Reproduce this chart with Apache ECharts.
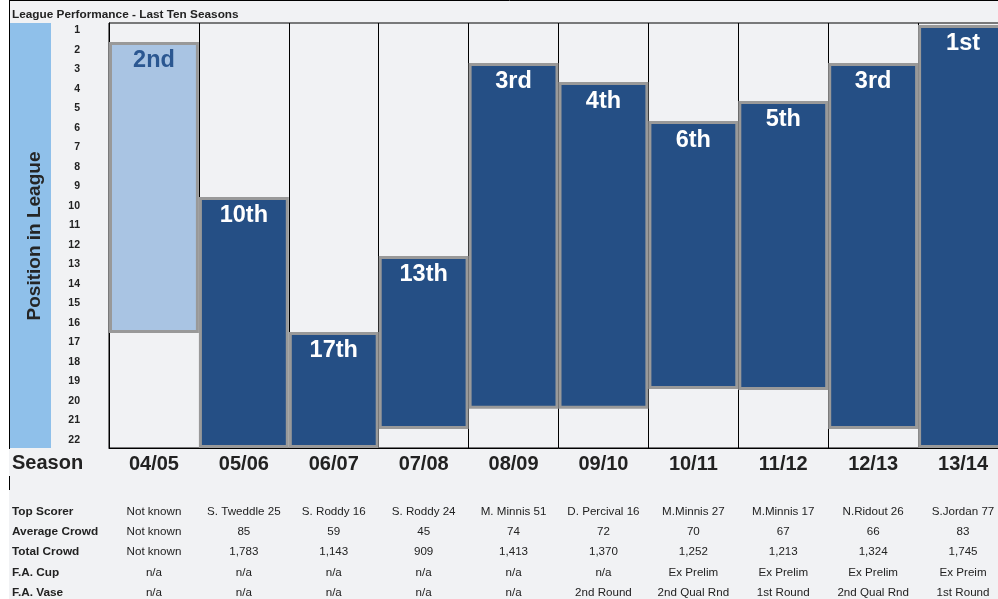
<!DOCTYPE html>
<html><head><meta charset="utf-8">
<script src="https://cdn.jsdelivr.net/npm/echarts@6/dist/echarts.min.js"></script>
<style>html,body{margin:0;padding:0;background:#fff;overflow:hidden}#c{width:1010px;height:599px}</style>
</head><body><div id="c"></div>
<script>
const seasons = ['04/05','05/06','06/07','07/08','08/09','09/10','10/11','11/12','12/13','13/14'];
const positionLabels = ['2nd','10th','17th','13th','3rd','4th','6th','5th','3rd','1st'];
const barTops = [1.59, 9.54, 16.47, 12.57, 2.67, 3.65, 5.65, 4.62, 2.67, 0.72];
const barBottoms = [16.52, 22.42, 22.42, 21.44, 20.41, 20.41, 19.39, 19.44, 21.44, 22.42];
const yTicks = [1,2,3,4,5,6,7,8,9,10,11,12,13,14,15,16,17,18,19,20,21,22];
const rowNames = ['Top Scorer','Average Crowd','Total Crowd','F.A. Cup','F.A. Vase'];
const topScorer = ['Not known','S. Tweddle 25','S. Roddy 16','S. Roddy 24','M. Minnis 51','D. Percival 16','M.Minnis 27','M.Minnis 17','N.Ridout 26','S.Jordan 77'];
const avgCrowd = ['Not known','85','59','45','74','72','70','67','66','83'];
const totalCrowd = ['Not known','1,783','1,143','909','1,413','1,370','1,252','1,213','1,324','1,745'];
const faCup = ['n/a','n/a','n/a','n/a','n/a','n/a','Ex Prelim','Ex Prelim','Ex Prelim','Ex Preim'];
const faVase = ['n/a','n/a','n/a','n/a','n/a','2nd Round','2nd Qual Rnd','1st Round','2nd Qual Rnd','1st Round'];
const tableRows = [topScorer, avgCrowd, totalCrowd, faCup, faVase];

const FONT = '"Liberation Sans", Arial, sans-serif';
const chart = echarts.init(document.getElementById('c'));
const lightIdx = 0;
const option = {
  backgroundColor: '#f1f2f4',
  animation: false,
  title: { text: 'League Performance - Last Ten Seasons', left: 12, top: 9, padding: 0,
    textStyle: { fontFamily: FONT, fontSize: 11.8, fontWeight: 'bold', color: '#222' } },
  grid: { left: 109, right: 2, top: 23, bottom: 151, show: true, borderColor: '#000', borderWidth: 1, backgroundColor: 'transparent' },
  xAxis: {
    type: 'category', data: seasons, position: 'bottom',
    axisLine: { show: true, lineStyle: { color: '#000', width: 1 } },
    axisTick: { show: false },
    splitLine: { show: true, lineStyle: { color: '#000', width: 1 } },
    axisLabel: { fontFamily: FONT, fontSize: 20, fontWeight: 'bold', color: '#222', margin: 6 }
  },
  yAxis: {
    type: 'value', inverse: true, min: 0.62, max: 22.42,
    axisLine: { show: true, lineStyle: { color: '#000', width: 1 } },
    axisTick: { show: false },
    splitLine: { show: false },
    axisLabel: { customValues: yTicks, fontFamily: FONT, fontSize: 10.5, fontWeight: 'bold', color: '#222', margin: 29 }
  },
  series: [
    { type: 'bar', stack: 's', data: barTops, itemStyle: { color: 'rgba(0,0,0,0)' }, barCategoryGap: 0, silent: true, z: 1 },
    { type: 'bar', stack: 's', barCategoryGap: 0, z: 3,
      data: barBottoms.map((b, i) => ({
        value: +(b - barTops[i]).toFixed(2),
        itemStyle: { color: i === lightIdx ? '#a9c4e3' : '#254f85' },
        label: { color: i === lightIdx ? '#2b5791' : '#ffffff' }
      })),
      itemStyle: { borderColor: '#999999', borderWidth: 3 },
      label: { show: true, position: 'insideTop', distance: 7, fontFamily: FONT, fontSize: 23.5, fontWeight: 'bold',
        formatter: p => positionLabels[p.dataIndex] }
    }
  ]
};
chart.setOption(option);

const g = [
  { type: 'rect', shape: { x: 0, y: 0, width: 9, height: 599 }, style: { fill: '#ffffff' }, z: 10 },
  { type: 'line', shape: { x1: 9.5, y1: 0, x2: 9.5, y2: 449 }, style: { stroke: '#000', lineWidth: 1 }, z: 10 },
  { type: 'line', shape: { x1: 9.5, y1: 476, x2: 9.5, y2: 490 }, style: { stroke: '#000', lineWidth: 1 }, z: 10 },
  { type: 'line', shape: { x1: 9, y1: 0.5, x2: 1010, y2: 0.5 }, style: { stroke: '#000', lineWidth: 1 }, z: 10 },
  { type: 'rect', shape: { x: 10, y: 23, width: 41, height: 425 }, style: { fill: '#8fc0ea' }, z: 10 },
  { type: 'text', x: 35, y: 236, rotation: Math.PI / 2,
    style: { text: 'Position in League', fill: '#252525', font: 'bold 19px ' + FONT, align: 'center', verticalAlign: 'middle' }, z: 11 },
  { type: 'text', x: 12, y: 463, style: { text: 'Season', fill: '#222', font: 'bold 20px ' + FONT, align: 'left', verticalAlign: 'middle' }, z: 11 }
];
const rowY = [512, 532, 552, 573, 593];
rowNames.forEach((n, r) => {
  g.push({ type: 'text', x: 12, y: rowY[r], style: { text: n, fill: '#222', font: 'bold 11.8px ' + FONT, align: 'left', verticalAlign: 'middle' }, z: 11 });
  tableRows[r].forEach((v, i) => {
    const x = chart.convertToPixel({ xAxisIndex: 0 }, seasons[i]);
    g.push({ type: 'text', x: x, y: rowY[r], style: { text: v, fill: '#222', font: '11.6px ' + FONT, align: 'center', verticalAlign: 'middle' }, z: 11 });
  });
});
chart.setOption({ graphic: g });
</script></body></html>
